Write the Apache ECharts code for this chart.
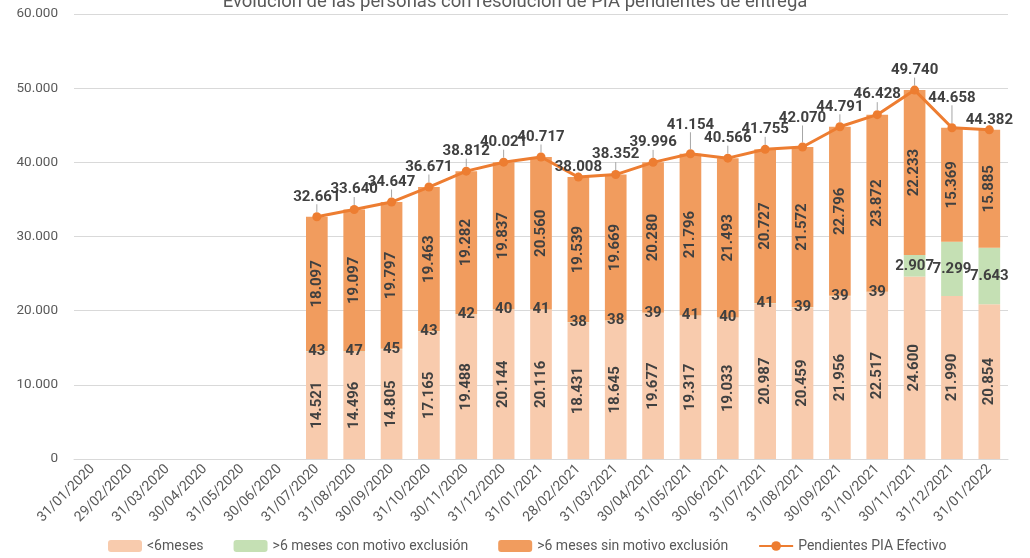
<!DOCTYPE html>
<html><head><meta charset="utf-8">
<script src="https://cdn.jsdelivr.net/npm/echarts@6/dist/echarts.min.js"></script>
<style>html,body{margin:0;padding:0;background:#fff}#c{width:1030px;height:558px}</style>
</head><body><div id="c"></div>
<script>
var categories = ['31/01/2020','29/02/2020','31/03/2020','30/04/2020','31/05/2020','30/06/2020','31/07/2020','31/08/2020','30/09/2020','31/10/2020','30/11/2020','31/12/2020','31/01/2021','28/02/2021','31/03/2021','30/04/2021','31/05/2021','30/06/2021','31/07/2021','31/08/2021','30/09/2021','31/10/2021','30/11/2021','31/12/2021','31/01/2022'];
var menos6 = [null,null,null,null,null,null,14521,14496,14805,17165,19488,20144,20116,18431,18645,19677,19317,19033,20987,20459,21956,22517,24600,21990,20854];
var conMotivo = [null,null,null,null,null,null,43,47,45,43,42,40,41,38,38,39,41,40,41,39,39,39,2907,7299,7643];
var sinMotivo = [null,null,null,null,null,null,18097,19097,19797,19463,19282,19837,20560,19539,19669,20280,21796,21493,20727,21572,22796,23872,22233,15369,15885];
var pendientes = [null,null,null,null,null,null,32661,33640,34647,36671,38812,40021,40717,38008,38352,39996,41154,40566,41755,42070,44791,46428,49740,44658,44382];
var yTicks = [0,10000,20000,30000,40000,50000,60000];

function fmt(v){ return String(v).replace(/\B(?=(\d{3})+(?!\d))/g,'.'); }
var FONT = 'Roboto';
var labelShift = {16:-9, 19:-9, 23:-10};
var closeIdx = [13, 24];
var lineData = pendientes.map(function(v,i){
  return closeIdx.indexOf(i) >= 0 ? {value:v, label:{distance:-2}} : v;
});
var chart = echarts.init(document.getElementById('c'));
var lbl = {color:'#404040', fontWeight:'bold', fontSize:15, fontFamily:FONT, formatter:function(p){return fmt(p.value);}};
chart.setOption({
  animation:false,
  title:{text:'Evolución de las personas con resolución de PIA pendientes de entrega', left:'center', top:-12,
    textStyle:{color:'#595959', fontSize:18.5, fontWeight:'normal', fontFamily:FONT}},
  grid:{left:74, right:22, top:14, bottom:99},
  legend:{bottom:0, left:103, itemGap:30, itemWidth:34, itemHeight:12,
    textStyle:{color:'#595959', fontSize:14, fontFamily:FONT},
    data:['<6meses','>6 meses con motivo exclusión','>6 meses sin motivo exclusión','Pendientes PIA Efectivo']},
  xAxis:{type:'category', data:categories,
    axisLine:{lineStyle:{color:'#d9d9d9'}}, axisTick:{lineStyle:{color:'#d9d9d9'}, length:5},
    axisLabel:{rotate:45, color:'#595959', fontSize:14, fontFamily:FONT, interval:0, margin:8}},
  yAxis:{type:'value', min:yTicks[0], max:yTicks[yTicks.length-1], interval:10000,
    axisLine:{show:false}, axisTick:{show:false},
    splitLine:{lineStyle:{color:'#d9d9d9'}},
    axisLabel:{color:'#595959', fontSize:13.5, fontFamily:FONT, margin:16, formatter:function(v){return fmt(v);}}},
  series:[
    {name:'<6meses', type:'bar', stack:'s', data:menos6, barWidth:'58%', itemStyle:{color:'#F8CBAD'},
      label:Object.assign({show:true, position:'inside', rotate:90}, lbl)},
    {name:'>6 meses con motivo exclusión', type:'bar', stack:'s', data:conMotivo, itemStyle:{color:'#C5E0B4'},
      label:Object.assign({show:true, position:'inside'}, lbl)},
    {name:'>6 meses sin motivo exclusión', type:'bar', stack:'s', data:sinMotivo, itemStyle:{color:'#F19C5E'},
      label:Object.assign({show:true, position:'inside', rotate:90}, lbl)},
    {name:'Pendientes PIA Efectivo', type:'line', data:lineData, symbol:'circle', symbolSize:9,
      itemStyle:{color:'#ED7D31'}, lineStyle:{color:'#ED7D31', width:3},
      label:Object.assign({show:true, position:'top', distance:8}, lbl), z:5,
      labelLine:{show:true, lineStyle:{color:'#a6a6a6', width:1}},
      labelLayout:function(p){
        var d = labelShift[p.dataIndex];
        return d ? {dy:d} : {};
      }}
  ]
});
</script></body></html>
